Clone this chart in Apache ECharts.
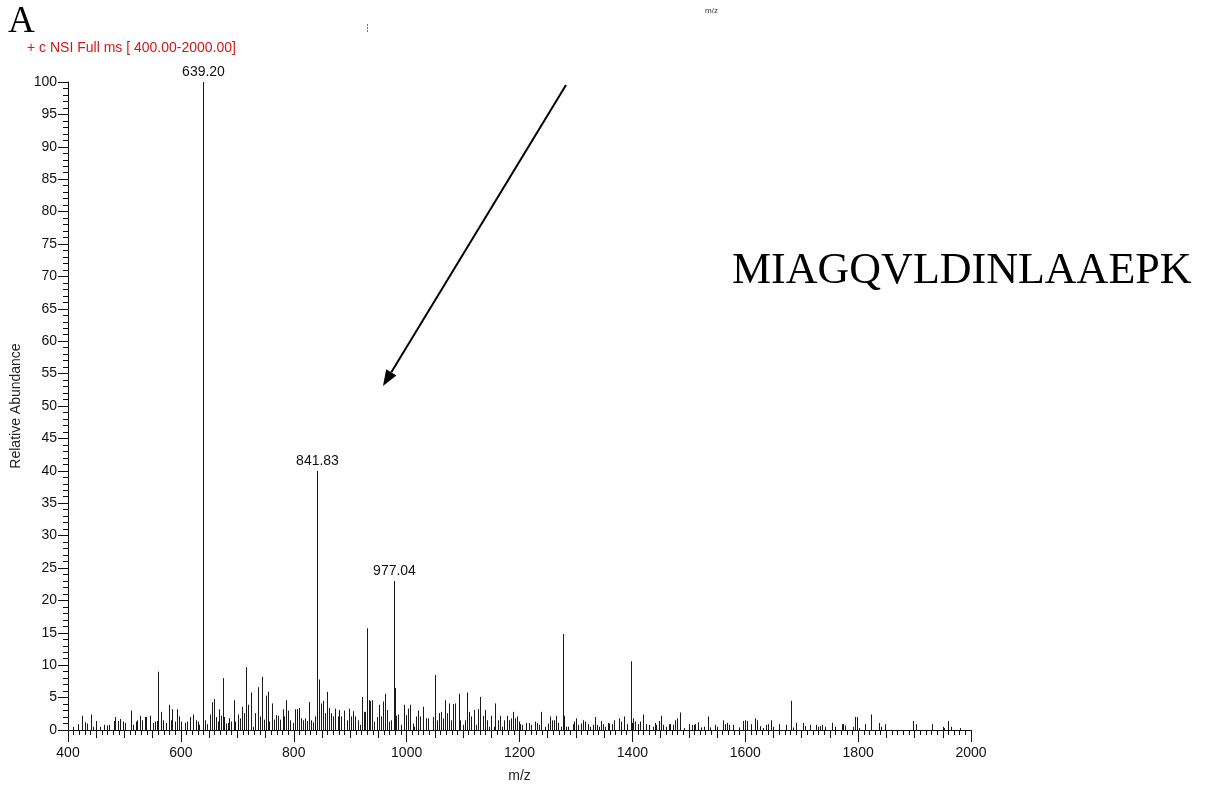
<!DOCTYPE html>
<html>
<head>
<meta charset="utf-8">
<script src="https://cdn.jsdelivr.net/npm/echarts@6/dist/echarts.min.js"></script>
<style>
html,body{margin:0;padding:0;background:#fff;}
#chart{width:1209px;height:787px;}
</style>
</head>
<body>
<div id="chart"></div>
<script>
// ---- data ----
const peakMz = [
 409,417,424,431,434,441,444,450,457,464,469,473,481,484,488,493,497,501,512,516,520,523,528,532,536,539,545,550,554,557,560,565,568,574,579,583,585,590,593,597,601,607,611,616,622,626,630,632,639.2,642,647,652,656,659,662,
 665,668,671,674,677,680,683,686,689,693.5,696.5,700.6,704.7,708.3,711.8,715.4,719.5,724.2,728.3,731.9,736,739.6,743.1,746.7,750.8,753.7,756.7,760.8,765,768.5,771.5,776.2,780.3,783.3,786.8,790.4,793.9,798,801.6,805.7,808.7,812.8,816.3,819.3,823.4,827.6,830.5,833.5,837,841.83,844.1,848.2,851.2,855.3,858.3,861.8,866,870.1,873.6,877.8,880.7,884.3,889.6,893.7,897.3,901.4,905.5,909.1,913.2,917.3,920.9,923.8,927,
 930.5,932.7,935.7,938.6,942.8,947.5,951.6,954.6,958.7,962.3,965.2,968.2,972.3,977.04,978.6,981.2,985.3,990,994.7,998.9,1002.4,1006.5,1010.7,1013.6,1016.6,1020.7,1024.3,1028.4,1034.3,1037.9,1046.1,1049.7,1053.2,1056.7,1060.9,1065,1068.6,1071.5,1075.7,1078.6,1082.7,1086.3,1092.2,1095.1,1099.3,1102.8,1107,1109.9,1114,1118.8,1122.9,1126.4,1130.6,1134.7,1138.3,1141.8,1145.3,1150.1,1154.2,1157.2,1161.3,1165.4,1169,1173.1,1177.8,1182,1184.9,1187.9,1192,1195,
 1198.5,1200.9,1204.4,1211.5,1216.2,1220.4,1228.1,1231,1235.1,1238.7,1245.8,1249.9,1253.5,1257,1261.7,1264.7,1268.8,1272.9,1276.5,1279.4,1282.4,1286.5,1294.2,1297.2,1300.1,1304.2,1309,1313.1,1316.6,1320.8,1324.9,1329.6,1333.2,1337.3,1341.5,1344.4,1348.5,1352.1,1356.2,1359.2,1363.3,1366.8,1376.9,1379.8,1385.7,1389.9,1397,1398.7,1401.7,1405.2,1409.4,1413.5,1419.4,1424.1,1428.9,1435.9,1439.5,1441.9,1447.8,1450.7,1454.3,1459.6,
 1464.2,1466.6,1472.5,1476,1479.6,1483.7,1492,1500.8,1505,1508.5,1511.5,1515.6,1521.5,1527.4,1534.5,1538.1,1545.7,1549.3,1559.9,1564.6,1568.2,1571.7,1578.8,1589.4,1596.5,1600.1,1603,1610.1,1617.8,1620.7,1626,1630.8,1636.7,1640.8,1646.1,1649.7,1659.1,1672.1,1681.6,1685.1,1689.8,1702.8,1706.4,1715.2,1725.3,
 1728.3,1733,1735.3,1741.8,1753.6,1758.4,1771.4,1773.7,1776.1,1791.4,1795,1797.4,1802.1,1812.1,1822.8,1837.5,1840.5,1847.6,1897.8,1902.5,1930.8,1949.7,1952.7,1959.8,1964.5,1981
];
const peakIntensity = [
 0.5,0.9,2.2,1.2,1.0,2.4,0.5,1.4,0.5,0.8,0.7,0.8,1.4,2.0,1.4,1.7,1.3,1.1,3.0,0.8,1.3,1.5,2.2,1.5,2.0,2.0,2.2,1.1,1.3,1.4,9.0,2.8,1.5,1.1,3.9,1.5,3.2,1.3,3.2,2.1,1.3,1.1,1.3,2.0,2.4,1.5,1.3,0.8,100,1.5,0.9,2.4,4.3,4.8,2.0,
 1.3,3.2,2.2,8.0,2.0,1.0,1.1,1.8,1.3,4.6,1.3,2.4,1.8,3.6,2.6,9.7,3.9,5.8,0.5,2.6,6.6,2.1,8.2,1.6,5.3,5.9,1.3,4.1,1.6,2.3,2.2,1.6,3.2,2.1,4.6,3.0,1.5,1.1,3.2,3.2,3.4,1.8,1.5,1.8,1.4,4.3,1.5,1.2,2.1,40,7.8,4.1,4.5,2.6,5.9,3.4,2.6,2.1,3.3,2.1,3.1,2.1,3.0,1.5,3.3,2.1,2.9,2.1,1.5,0.8,5.1,2.8,2.8,
 15.7,4.6,4.5,4.6,1.3,2.0,3.9,2.1,4.4,5.6,3.1,1.3,1.5,23,6.5,2.2,2.4,0.8,3.9,2.3,3.3,3.9,1.0,0.5,2.1,3.0,2.1,3.6,1.8,1.8,2.0,8.5,1.5,2.6,2.8,1.8,4.6,2.6,4.1,1.5,4.0,4.1,5.6,1.5,0.8,1.5,5.8,2.8,2.1,3.1,0.8,3.2,5.1,2.2,3.1,1.5,0.5,2.2,0.5,4.1,1.5,2.2,0.5,1.5,2.2,1.5,1.8,2.8,1.8,2.1,
 1.3,0.9,0.8,1.1,1.1,0.8,1.3,1.1,0.8,2.8,0.5,1.0,2.1,1.5,1.5,2.2,1.1,0.5,14.8,2.2,0.5,0.5,0.9,1.3,1.8,0.8,1.0,1.5,1.3,0.9,0.5,0.8,2.0,0.8,0.5,1.4,0.9,0.5,1.1,1.0,0.9,1.5,1.8,1.3,2.1,0.9,10.6,1.1,1.8,1.3,0.9,1.3,2.4,0.9,0.8,0.5,1.1,0.8,1.4,2.2,0.8,0.5,
 0.9,0.9,0.8,1.5,1.8,2.7,0.3,0.9,0.8,0.8,0.9,1.2,0.4,0.5,2.1,0.4,0.8,0.5,1.5,0.9,1.1,0.8,0.8,0.4,1.4,1.5,1.4,0.9,1.8,1.5,0.6,0.3,0.8,0.9,1.5,0.5,0.9,0.8,4.5,0.4,1.1,1.1,0.6,0.8,0.8,
 0.5,0.6,0.8,0.5,1.1,0.5,0.9,0.9,0.7,0.5,2.0,2.0,0.3,0.9,2.4,1.1,0.5,0.9,1.4,0.9,0.9,0.5,0.3,1.4,0.5,0.3
];
const labeledMz = [639.20, 841.83, 977.04];
const labeledIntensity = [100, 40, 23];
const xTickLabels = [400, 600, 800, 1000, 1200, 1400, 1600, 1800, 2000];

const FONT = "'Liberation Sans', Arial, sans-serif";
const SERIF = "'Liberation Serif', 'Times New Roman', serif";

const peakData = peakMz.map((m, i) => [m, peakIntensity[i]]);
const labelData = labeledMz.map((m, i) => [m, labeledIntensity[i]]);

const chart = echarts.init(document.getElementById('chart'), null, {renderer: 'canvas'});

const axisBase = {
  type: 'value', min: 400, max: 2000, gridIndex: 0, position: 'bottom'
};

chart.setOption({
  backgroundColor: '#fff',
  animation: false,
  grid: {left: 68, right: 238, top: 82, bottom: 57, containLabel: false, outerBoundsMode: 'none'},
  xAxis: [
    Object.assign({}, axisBase, {
      interval: 200,
      name: 'm/z', nameLocation: 'middle', nameGap: 39,
      nameTextStyle: {fontFamily: FONT, fontSize: 14, color: '#222'},
      axisLine: {show: true, lineStyle: {color: '#111', width: 1}},
      axisTick: {show: true, length: 12, lineStyle: {color: '#111'}},
      minorTick: {show: true, splitNumber: 20, length: 5, lineStyle: {color: '#111'}},
      axisLabel: {show: true, margin: 16, fontFamily: FONT, fontSize: 14, color: '#111',
        formatter: v => xTickLabels.indexOf(v) >= 0 ? String(v) : ''},
      splitLine: {show: false}, minorSplitLine: {show: false}
    }),
    Object.assign({}, axisBase, {
      interval: 50,
      axisLine: {show: false},
      axisTick: {show: true, length: 8, lineStyle: {color: '#111'}},
      axisLabel: {show: false},
      splitLine: {show: false}
    })
  ],
  yAxis: {
    type: 'value', min: 0, max: 100, interval: 5,
    name: 'Relative Abundance', nameLocation: 'middle', nameGap: 43,
    nameTextStyle: {fontFamily: FONT, fontSize: 14, color: '#222'},
    axisLine: {show: true, lineStyle: {color: '#111', width: 1}},
    axisTick: {show: true, length: 10, lineStyle: {color: '#111'}},
    minorTick: {show: true, splitNumber: 5, length: 5, lineStyle: {color: '#111'}},
    axisLabel: {margin: 11, fontFamily: FONT, fontSize: 14, color: '#111'},
    splitLine: {show: false}
  },
  series: [
    {
      type: 'custom',
      xAxisIndex: 0, yAxisIndex: 0,
      clip: true,
      data: peakData,
      renderItem: function (params, api) {
        const x = api.value(0), y = api.value(1);
        const p0 = api.coord([x, 0]);
        const p1 = api.coord([x, y]);
        const px = Math.round(p0[0]) + 0.5;
        return {
          type: 'line',
          shape: {x1: px, y1: p0[1], x2: px, y2: p1[1]},
          style: {stroke: '#1a1a1a', lineWidth: 1}
        };
      }
    },
    {
      type: 'custom',
      xAxisIndex: 0, yAxisIndex: 0,
      clip: false,
      data: labelData,
      renderItem: function (params, api) {
        const x = api.value(0), y = api.value(1);
        const p = api.coord([x, y]);
        return {
          type: 'text',
          x: Math.round(p[0]) + 0.5, y: p[1] - 3,
          style: {text: x.toFixed(2), align: 'center', verticalAlign: 'bottom',
            fontFamily: FONT, fontSize: 14, fill: '#111'}
        };
      }
    }
  ],
  graphic: [
    {type: 'text', left: 8, top: 4, style: {text: 'A', fontFamily: SERIF, fontSize: 37, fill: '#000'}},
    {type: 'text', left: 27, top: 41, style: {text: '+ c NSI Full ms [ 400.00-2000.00]', fontFamily: FONT, fontSize: 14, fill: '#d01818'}},
    {type: 'text', left: 705, top: 7, style: {text: 'm/z', fontFamily: FONT, fontSize: 8, fill: '#333'}},
    {type: 'line', shape: {x1: 367.5, y1: 24, x2: 367.5, y2: 33}, style: {stroke: '#6a6aa8', lineWidth: 1, lineDash: [2, 1]}},
    {type: 'text', left: 732, top: 249, style: {text: 'MIAGQVLDINLAAEPK', fontFamily: SERIF, fontSize: 44, fill: '#000'}},
    {type: 'line', shape: {x1: 566, y1: 85, x2: 391.3, y2: 372.3}, style: {stroke: '#000', lineWidth: 2}},
    {type: 'polygon', shape: {points: [[383, 386], [396.4, 375.4], [386.2, 369.2]]}, style: {fill: '#000'}}
  ]
});
</script>
</body>
</html>
